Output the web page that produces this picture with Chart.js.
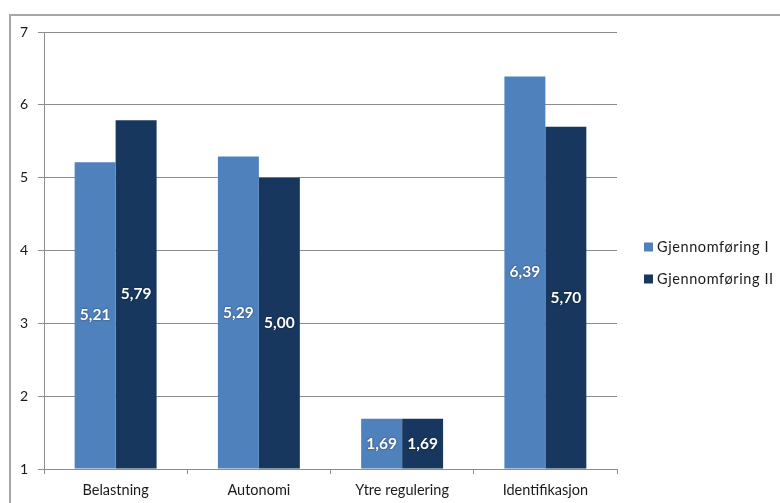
<!DOCTYPE html>
<html>
<head>
<meta charset="utf-8">
<script src="https://cdn.jsdelivr.net/npm/chart.js@4.4.1/dist/chart.umd.min.js"></script>
<style>
  html, body { margin: 0; padding: 0; background: #ffffff; }
  #wrap { width: 780px; height: 503px; position: relative; }
</style>
</head>
<body>
<div id="wrap"><canvas id="c" width="780" height="503"></canvas></div>
<script>
// Survey dimensions and mean scores for the two rounds
const categories = ['Belastning', 'Autonomi', 'Ytre regulering', 'Identifikasjon'];
const round1 = [5.21, 5.29, 1.69, 6.39];
const round2 = [5.79, 5.00, 1.69, 5.70];
const seriesNames = ['Gjennomføring I', 'Gjennomføring II'];
const yTicks = [1, 2, 3, 4, 5, 6, 7];

const FONT = 'Lato, "Open Sans", sans-serif';
const GRID = '#8c8c8c';

// Frame around the whole chart
const framePlugin = {
  id: 'frame',
  beforeDraw(chart) {
    const ctx = chart.ctx;
    ctx.save();
    ctx.fillStyle = '#ffffff';
    ctx.fillRect(0, 0, chart.width, chart.height);
    ctx.strokeStyle = '#a6a6a6';
    ctx.lineWidth = 2;
    ctx.strokeRect(10, 15, 900, 900);
    ctx.restore();
  }
};

// Value labels centred inside each bar
const valueLabels = {
  id: 'valueLabels',
  afterDatasetsDraw(chart) {
    const ctx = chart.ctx;
    ctx.save();
    ctx.font = 'bold 15.5px ' + FONT;
    ctx.textAlign = 'center';
    ctx.textBaseline = 'middle';
    ctx.fillStyle = '#ffffff';
    ctx.shadowColor = 'rgba(0,0,0,0.55)';
    ctx.shadowBlur = 2;
    chart.data.datasets.forEach((ds, i) => {
      const meta = chart.getDatasetMeta(i);
      meta.data.forEach((bar, j) => {
        const v = ds.data[j];
        const y = (bar.y + bar.base) / 2;
        ctx.fillText(v.toFixed(2).replace('.', ','), bar.x, y);
      });
    });
    ctx.restore();
  }
};

// Legend drawn to the right of the plot
const sideLegend = {
  id: 'sideLegend',
  afterDraw(chart) {
    const ctx = chart.ctx;
    ctx.save();
    ctx.font = '14.5px ' + FONT;
    ctx.textBaseline = 'middle';
    ctx.textAlign = 'left';
    if ('letterSpacing' in ctx) ctx.letterSpacing = '0.6px';
    chart.data.datasets.forEach((ds, i) => {
      const cy = 247 + i * 32;
      ctx.fillStyle = ds.backgroundColor;
      ctx.fillRect(644, cy - 4.5, 9, 9);
      ctx.fillStyle = '#1a1a1a';
      ctx.fillText(ds.label, 657, cy);
    });
    ctx.restore();
  }
};

new Chart(document.getElementById('c'), {
  type: 'bar',
  data: {
    labels: categories,
    datasets: [
      { label: seriesNames[0], data: round1, backgroundColor: '#4f81bd' },
      { label: seriesNames[1], data: round2, backgroundColor: '#17375e' }
    ]
  },
  options: {
    responsive: false,
    animation: false,
    devicePixelRatio: 1,
    layout: { padding: { left: 0, top: 32, right: 163, bottom: 0 } },
    datasets: { bar: { categoryPercentage: 0.572, barPercentage: 1.0, base: 1 } },
    plugins: {
      legend: { display: false },
      tooltip: { enabled: false }
    },
    scales: {
      x: {
        offset: true,
        grid: { offset: true, drawOnChartArea: false, drawTicks: true, tickLength: 5, color: GRID },
        border: { display: true, color: GRID, width: 1 },
        ticks: { color: '#1a1a1a', font: { family: FONT, size: 14.5 }, padding: 8, maxRotation: 0 },
        afterFit(scale) { scale.height = 34; }
      },
      y: {
        min: 1,
        max: 7,
        afterBuildTicks(scale) { scale.ticks = yTicks.map(v => ({ value: v })); },
        grid: { color: GRID, drawTicks: true, tickLength: 6 },
        border: { display: true, color: GRID, width: 1 },
        ticks: { color: '#1a1a1a', font: { family: FONT, size: 14 }, padding: 10 },
        afterFit(scale) { scale.width = 44; }
      }
    }
  },
  plugins: [framePlugin, valueLabels, sideLegend]
});
</script>
</body>
</html>
